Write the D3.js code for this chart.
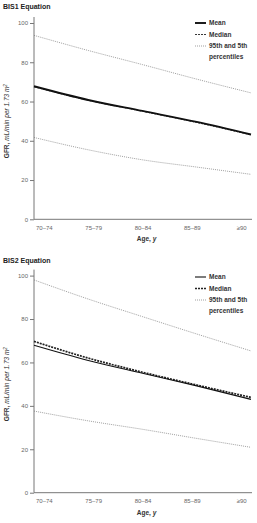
<!DOCTYPE html>
<html lang="en">
<head>
    <meta charset="UTF-8">
    <title>GFR by age, BIS1 and BIS2</title>
    <script src="https://d3js.org/d3.v7.min.js"></script>
    <style>
        body{ margin:0; background:#fff; }
        svg{ display:block; }
        .title{ font-family:"Liberation Sans", sans-serif; font-weight:bold; font-size:7px; fill:#222; }
        .tick text{ font-family:"Liberation Sans", sans-serif; font-size:6px; fill:#666; }
        .axis path, .axis line{ stroke:#777; stroke-width:1px; }
        .legend text{ font-family:"Liberation Sans", sans-serif; font-weight:bold; font-size:6.5px; fill:#333; }
        .ylab, .xlab{ font-family:"Liberation Sans", sans-serif; font-size:6.5px; fill:#333; }
    </style>
</head>
<body>
<svg id="canvas" width="257" height="523"></svg>
<script>
    // age groups on the x axis
    let ageGroups = ["70\u201374", "75\u201379", "80\u201384", "85\u201389", "\u226590"];
    let yTicks = [0, 20, 40, 60, 80, 100];

    // BIS1 equation
    let bis1Mean   = [67.8, 60.8, 55.2, 49.6, 43.2];
    let bis1Median = [67.5, 60.6, 55.0, 49.3, 43.0];
    let bis1P95    = [93.7, 86.0, 78.8, 71.4, 64.4];
    let bis1P5     = [41.7, 35.4, 30.3, 26.6, 22.9];

    // BIS2 equation
    let bis2Mean   = [67.9, 60.9, 55.0, 49.2, 43.0];
    let bis2Median = [69.7, 62.0, 55.5, 49.6, 43.9];
    let bis2P95    = [98.0, 89.2, 81.1, 73.1, 65.3];
    let bis2P5     = [37.6, 33.1, 29.2, 25.0, 20.9];

    let svg = d3.select('#canvas');

    let panels = [
        {title:"BIS1 Equation", top:0, y0:219.3, y100:23, mean:bis1Mean, median:bis1Median, p95:bis1P95, p5:bis1P5,
         meanW:1.9, medianW:0.9},
        {title:"BIS2 Equation", top:254, y0:492.7, y100:275.6, mean:bis2Mean, median:bis2Median, p95:bis2P95, p5:bis2P5,
         meanW:1.1, medianW:1.7}
    ];

    panels.forEach(function(p){
        let g = svg.append('g');
        let left = 34, right = 251;

        let yscale = d3.scaleLinear().domain([0,100]).range([p.y0, p.y100]);
        // lines run edge to edge, labels sit inset
        let xline = d3.scaleLinear().domain([0, ageGroups.length-1]).range([left, right]);
        let xlab = d3.scalePoint().domain(ageGroups).range([left, right]).padding(0.2);

        g.append('text').attr('class','title')
            .attr('x',3).attr('y',p.top+9).text(p.title);

        // y axis
        g.append('g').attr('class','axis')
            .attr('transform',`translate(${left},0)`)
            .call(d3.axisLeft(yscale).tickValues(yTicks).tickSize(4).tickSizeOuter(0).tickPadding(2))
            .call(a => a.select('.domain').attr('d', `M0,${p.y0}V${p.y100-6}`));

        // x axis
        let xa = g.append('g').attr('class','axis')
            .attr('transform',`translate(0,${p.y0})`)
            .call(d3.axisBottom(xlab).tickSize(0).tickSizeOuter(0).tickPadding(6));
        xa.select('.domain').attr('d', `M${left},0H${right+1}`);

        // axis titles
        g.append('text').attr('class','xlab')
            .attr('x',(left+right)/2+4).attr('y',p.y0+22)
            .attr('text-anchor','middle')
            .html('<tspan font-weight="bold">Age, </tspan><tspan font-style="italic" font-weight="bold">y</tspan>');

        g.append('text').attr('class','ylab')
            .attr('transform',`translate(9,${(p.y0+p.y100)/2}) rotate(-90)`)
            .attr('text-anchor','middle')
            .html('<tspan font-weight="bold">GFR, </tspan><tspan font-style="italic">mL/min per 1.73 m</tspan><tspan font-style="italic" font-size="4.5px" dy="-2.5">2</tspan>');

        let line = d3.line()
            .x((d,i) => xline(i))
            .y(d => yscale(d))
            .curve(d3.curveMonotoneX);

        let series = [
            {vals:p.p95, w:0.7, dash:"1,1", col:"#777"},
            {vals:p.p5, w:0.7, dash:"1,1", col:"#777"},
            {vals:p.median, w:p.medianW, dash:"2,1", col:"#222"},
            {vals:p.mean, w:p.meanW, dash:null, col:"#111"}
        ];
        series.forEach(function(s){
            g.append('path')
                .attr('d', line(s.vals))
                .attr('fill','none')
                .attr('stroke', s.col)
                .attr('stroke-width', s.w)
                .attr('stroke-dasharray', s.dash);
        });

        // legend
        let lg = g.append('g').attr('class','legend')
            .attr('transform',`translate(195,${p.top+23})`);
        let items = [
            {label:["Mean"], w:p.meanW, dash:null, col:"#111"},
            {label:["Median"], w:p.medianW, dash:"2,1", col:"#222"},
            {label:["95th and 5th","percentiles"], w:0.7, dash:"1,1", col:"#777"}
        ];
        items.forEach(function(it,i){
            let yy = i*11.5;
            lg.append('line')
                .attr('x1',0).attr('x2',11).attr('y1',yy).attr('y2',yy)
                .attr('stroke',it.col).attr('stroke-width',it.w)
                .attr('stroke-dasharray',it.dash);
            let t = lg.append('text').attr('x',14).attr('y',yy+2.3);
            it.label.forEach(function(l,j){
                t.append('tspan').attr('x',14).attr('dy', j===0 ? 0 : 10.5).text(l);
            });
        });
    });
</script>
</body>
</html>
